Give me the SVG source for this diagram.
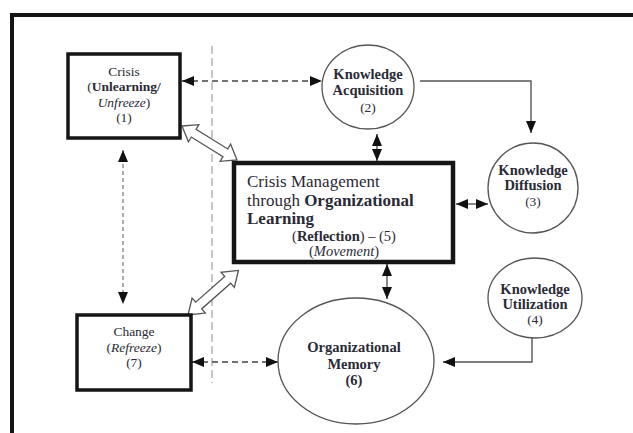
<svg xmlns="http://www.w3.org/2000/svg" width="633" height="433" viewBox="0 0 633 433">
  <defs>
    <style>
      .frame { fill: none; stroke: #151515; stroke-width: 4; }
      .box { fill: #ffffff; stroke: #151515; stroke-width: 3.5; }
      .boxc { fill: #ffffff; stroke: #151515; stroke-width: 4.5; }
      .circ { fill: #ffffff; stroke: #555555; stroke-width: 1.3; }
      .guide { fill: none; stroke: #b0b0b0; stroke-width: 1.4; stroke-dasharray: 8 4; }
      .dash { fill: none; stroke: #444444; stroke-width: 1.4; stroke-dasharray: 6 4; }
      .dot { fill: none; stroke: #8a8a8a; stroke-width: 1.4; stroke-dasharray: 4 3; }
      .line { fill: none; stroke: #555555; stroke-width: 1.4; }
      .hollow { fill: #ffffff; stroke: #555555; stroke-width: 1.3; stroke-linejoin: miter; }
      text { font-family: "Liberation Serif", "Times New Roman", serif; fill: #2a2a36; text-anchor: middle; }
      .s { font-size: 13.5px; }
      .m { font-size: 14.5px; font-weight: bold; }
      .c { font-size: 17px; text-anchor: start; }
      .r { font-size: 14.5px; }
      .b { font-weight: bold; }
      .i { font-style: italic; }
    </style>
    <marker id="head" viewBox="0 0 12 10" refX="12" refY="5" markerWidth="12" markerHeight="10" markerUnits="userSpaceOnUse" orient="auto-start-reverse">
      <path d="M0,0 L12,5 L0,10 z" fill="#111111"/>
    </marker>
    <!-- hollow two-headed arrow laid along the x axis, length 66 -->
    <polygon id="dbl" class="hollow" points="0,0 14,-10 14,-4.5 52,-4.5 52,-10 66,0 52,10 52,4.5 14,4.5 14,10"/>
  </defs>

  <!-- outer frame (top and left edges) -->
  <polyline class="frame" points="633,15 12,15 12,433"/>

  <!-- vertical dashed guide -->
  <line class="guide" x1="212" y1="46" x2="212" y2="383"/>

  <g id="connectors">
    <line class="dash" x1="182" y1="81" x2="322" y2="81" marker-start="url(#head)" marker-end="url(#head)"/>
    <polyline class="line" points="420,81 531,81 531,133" marker-end="url(#head)"/>
    <line class="line" x1="377" y1="134" x2="377" y2="161" marker-start="url(#head)" marker-end="url(#head)"/>
    <line class="line" x1="456" y1="204" x2="488" y2="204" marker-start="url(#head)" marker-end="url(#head)"/>
    <line class="line" x1="387" y1="264" x2="387" y2="299" marker-start="url(#head)" marker-end="url(#head)"/>
    <polyline class="line" points="532,338 532,362 443,362" marker-end="url(#head)"/>
    <line class="dash" x1="192" y1="362" x2="278" y2="362" marker-start="url(#head)" marker-end="url(#head)"/>
    <line class="dot" x1="123" y1="150" x2="123" y2="304" marker-start="url(#head)" marker-end="url(#head)"/>
    <use href="#dbl" transform="translate(182,126) rotate(31.7) scale(0.98,1)"/>
    <use href="#dbl" transform="translate(188,315) rotate(-41.5) scale(1.02,1)"/>
  </g>

  <g id="crisis">
    <rect class="box" x="68" y="54" width="112" height="84"/>
    <text class="s" x="124" y="76">Crisis</text>
    <text class="s" x="124" y="91">(<tspan class="b">Unlearning/</tspan></text>
    <text class="s" x="124" y="107"><tspan class="i">Unfreeze</tspan>)</text>
    <text class="s" x="124" y="122">(1)</text>
  </g>

  <g id="acquisition">
    <ellipse class="circ" cx="368" cy="87" rx="46" ry="42"/>
    <text class="m" x="368" y="79">Knowledge</text>
    <text class="m" x="368" y="95">Acquisition</text>
    <text class="s" x="368" y="112">(2)</text>
  </g>

  <g id="diffusion">
    <ellipse class="circ" cx="533" cy="188" rx="45" ry="45"/>
    <text class="m" x="533" y="175">Knowledge</text>
    <text class="m" x="533" y="190">Diffusion</text>
    <text class="s" x="533" y="206">(3)</text>
  </g>

  <g id="learning">
    <rect class="boxc" x="234" y="163" width="219" height="99"/>
    <text class="c" x="247" y="187">Crisis Management</text>
    <text class="c" x="247" y="206">through <tspan class="b">Organizational</tspan></text>
    <text class="c b" x="247" y="224">Learning</text>
    <text class="r" x="344" y="241">(<tspan class="b">Reflection</tspan>) – (5)</text>
    <text class="r" x="344" y="256">(<tspan class="i">Movement</tspan>)</text>
  </g>

  <g id="utilization">
    <ellipse class="circ" cx="535" cy="298" rx="47" ry="40"/>
    <text class="m" x="535" y="294">Knowledge</text>
    <text class="m" x="535" y="309">Utilization</text>
    <text class="s" x="535" y="324">(4)</text>
  </g>

  <g id="memory">
    <ellipse class="circ" cx="356" cy="361" rx="78" ry="63"/>
    <text class="m" x="354" y="352">Organizational</text>
    <text class="m" x="354" y="369">Memory</text>
    <text class="m" x="354" y="385">(6)</text>
  </g>

  <g id="change">
    <rect class="box" x="77" y="315" width="114" height="75"/>
    <text class="s" x="134" y="336">Change</text>
    <text class="s" x="134" y="352">(<tspan class="i">Refreeze</tspan>)</text>
    <text class="s" x="134" y="367">(7)</text>
  </g>
</svg>
